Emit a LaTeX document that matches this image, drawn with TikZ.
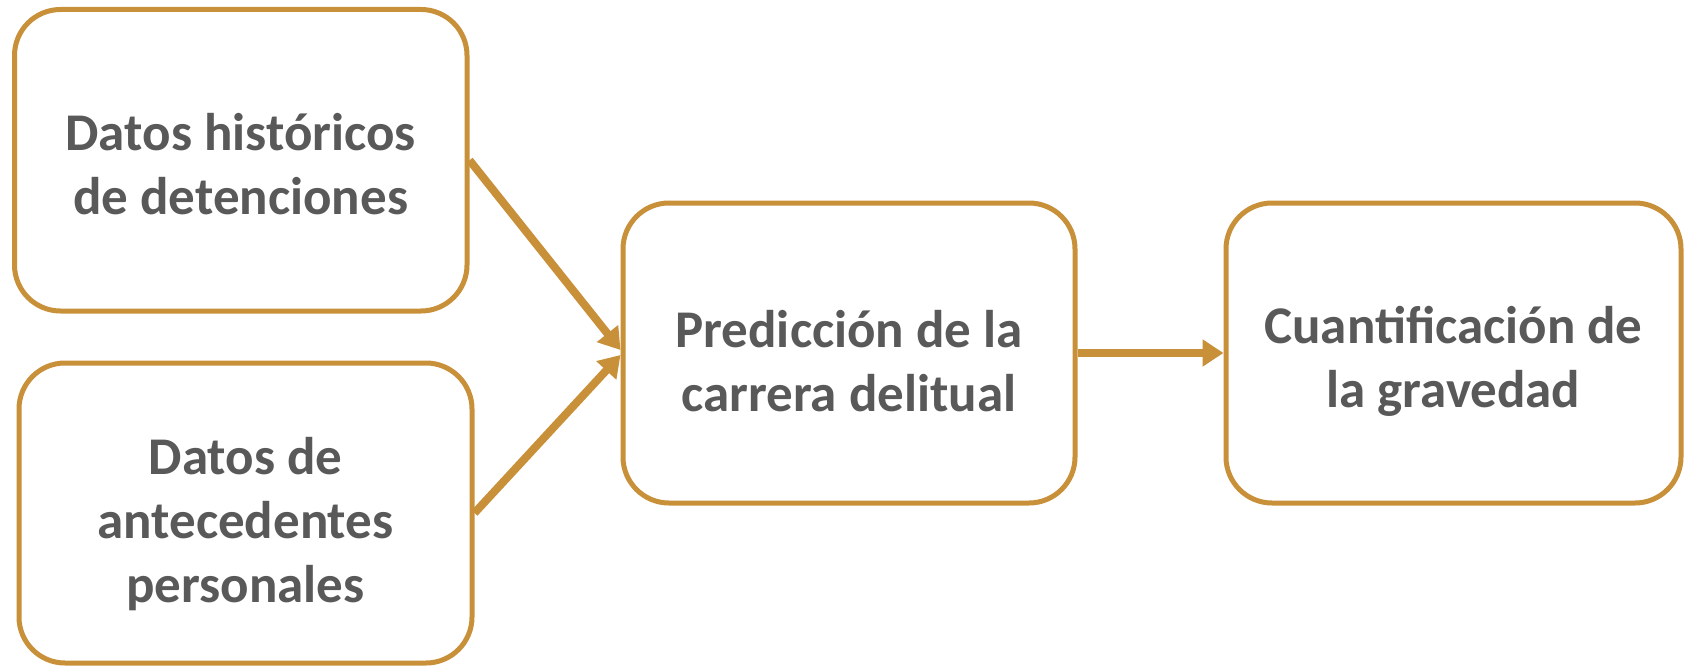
\documentclass[tikz,border=0pt]{standalone}
\usepackage{fontspec}
\setmainfont{Carlito}
\usetikzlibrary{arrows.meta,calc}
\definecolor{gold}{RGB}{201,144,58}
\definecolor{txt}{RGB}{89,89,89}
\begin{document}
\begin{tikzpicture}[x=1pt,y=-1pt,
  box/.style={draw=gold,line width=5pt,rounded corners=46pt,fill=white},
  lbl/.style={align=center,text=txt,inner sep=0pt,
    font=\fontsize{53}{64}\selectfont\bfseries},
  conn/.style={draw=gold,line width=8pt,-{Triangle[length=21pt,width=26pt]}}]
\useasboundingbox (0,0) rectangle (1684,666);
\node[box,minimum width=452.5pt,minimum height=301.5pt] (b1) at (240.75,160.25) {};
\node[box,minimum width=453pt,minimum height=300pt] (b2) at (245.5,513) {};
\node[box,minimum width=452pt,minimum height=300pt] (b3) at (849,353) {};
\node[box,minimum width=455pt,minimum height=300pt] (b4) at (1453.5,353) {};
\node[lbl] (l1) at ([yshift=-4pt]b1.center) {Datos históricos\\de detenciones};
\node[lbl] (l2) at ([yshift=-11pt]b2.center) {Datos de\\antecedentes\\personales};
\node[lbl] (l3) at ([yshift=-8pt]b3.center) {Predicción de la\\carrera delitual};
\node[lbl] (l4) at ([yshift=-8pt]b4.center) {Cuantificación de\\la gravedad};
\coordinate (t1) at ($(b3.west)+(0,-3)$);
\coordinate (t2) at ($(b3.west)+(0,2)$);
\draw[conn] (b1.east) -- (t1);
\draw[conn] (b2.east) -- (t2);
\draw[conn] (b3.east) -- (b4.west);
\end{tikzpicture}
\end{document}
